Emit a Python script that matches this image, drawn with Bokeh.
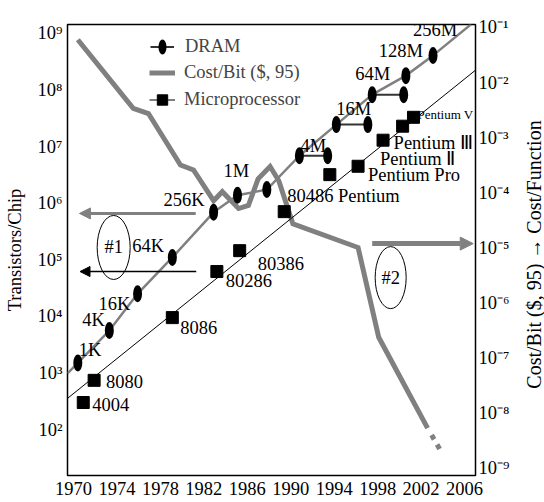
import math
from bokeh.plotting import figure
from bokeh.layouts import row
from bokeh.models import (Range1d, LogScale, LogAxis, FixedTicker, Arrow, NormalHead,
                          Legend, LegendItem, ColumnDataSource, LabelSet)
from bokeh.core.properties import value
from bokeh.embed import file_html
from bokeh.resources import INLINE

# ---------------- data ----------------
year_ticks = [1970, 1974, 1978, 1982, 1986, 1990, 1994, 1998, 2002, 2006]
left_exponents = [2, 3, 4, 5, 6, 7, 8, 9]
right_exponents = [-9, -8, -7, -6, -5, -4, -3, -2, -1]

dram_labels = ["1K", "4K", "16K", "64K", "256K", "1M", "4M", "16M", "64M", "128M", "256M"]
dram_year = [1970.4, 1973.3, 1975.9, 1979.1, 1982.9, 1985.1, 1990.8, 1994.2, 1997.5, 2000.6, 2003.1]
dram_count = [1.5e3, 5.6e3, 2.5e4, 1.1e5, 6.9e5, 1.38e6, 6.9e6, 2.45e7, 8.3e7, 1.8e8, 4.1e8]
# second sample of the same generation
dram_pair_label = ["1M", "4M", "16M", "64M"]
dram_pair_year = [1987.8, 1993.4, 1997.1, 2000.4]
dram_pair_count = [1.74e6, 6.9e6, 2.45e7, 8.3e7]
dram_pair_on_curve = ["1M"]
# where the DRAM curve leaves the frame
dram_curve_start = (1969.45, 980.0)
dram_curve_end = (2006.6, 1.45e9)

micro_names = ["4004", "8080", "8086", "80286", "80386", "80486", "Pentium",
               "Pentium Pro", "Pentium II", "Pentium III", "Pentium V"]
micro_year = [1970.9, 1971.9, 1979.1, 1983.2, 1985.3, 1989.4, 1993.6, 1996.2, 1998.5, 2000.3, 2001.3]
micro_count = [300, 740, 9.5e3, 6.2e4, 1.45e5, 7.1e5, 3.2e6, 4.5e6, 1.3e7, 2.3e7, 3.3e7]
micro_label_text = ["4004", "8080", "8086", "80286", "80386", "80486 Pentium", None,
                    "Pentium Pro", "Pentium \u2161", "Pentium \u2162", "Pentium V"]
micro_trend_year = [1969.45, 2007.0]
micro_trend_count = [355, 2.24e8]

cost_year = [1970.4, 1975.5, 1976.9, 1979.85, 1981.05, 1982.9, 1983.7, 1985.2, 1986.1,
             1987.0, 1988.1, 1988.9, 1990.2, 1996.2, 1998.1, 2002.6]
cost_per_bit = [0.060, 3.4e-3, 2.75e-3, 3.2e-4, 2.6e-4, 7.2e-5, 1.05e-4, 5.2e-5, 5.9e-5,
                1.8e-4, 3.0e-4, 1.66e-4, 2.75e-5, 1.02e-5, 2.4e-7, 5.4e-9]
cost_proj_year = [2002.6, 2003.9]
cost_proj = [5.4e-9, 1.95e-9]

# annotations (#1 / #2)
arrow1_y = 6.6e5
arrow1_x = (1981.25, 1970.55)
arrow1b_y = 6.2e4
arrow1b_x = (1981.3, 1970.6)
ellipse1 = (1973.7, 1.65e5)
arrow2_y = 1.2e-5
arrow2_x = (1997.5, 2006.8)
ellipse2 = (1999.2, 2.9e-6)

right_title = "Cost/Bit ($, 95) \u2192 Cost/Function"

# ---------------- styles ----------------
FONT_NAME = "Liberation Serif"
FONT = value(FONT_NAME)
FS = "18.5px"
GRAY = "#808080"

dram_label_dx = [1, -27, -39, -40, -50, -14, 1, 0, -17, -27, -20]
dram_label_dy = [-13, -11, 10, -11, -12, -24, -10, -16, -21, -25, -25]
micro_label_dx = [9, 12, 8, 9, 18, 3, 0, 10, -3, -9, 4]
micro_label_dy = [2, 1, 10, 9, 13, -16, 0, 9, 19, 17, -3]
micro_label_size = [FS] * 10 + ["13px"]

SUP = str.maketrans("-0123456789", "\u207b\u2070\u00b9\u00b2\u00b3\u2074\u2075\u2076\u2077\u2078\u2079")
left_ticks = [10.0 ** e for e in left_exponents]
right_ticks = [10.0 ** e for e in right_exponents]
left_labels = {10.0 ** e: "10" + str(e).translate(SUP) for e in left_exponents}
right_labels = {10.0 ** e: "10" + str(e).translate(SUP) for e in right_exponents}

W_MAIN, W_SIDE, H = 518, 26, 502

p = figure(width=W_MAIN, height=H, output_backend="svg", toolbar_location=None,
           x_range=Range1d(1969.45, 2007.01),
           y_range=Range1d(10 ** 1.187, 10 ** 9.159), y_axis_type="log",
           min_border_left=67, min_border_right=43, min_border_top=24, min_border_bottom=27)
p.extra_y_ranges = {"cost": Range1d(10 ** -9.127, 10 ** -0.946)}
p.extra_y_scales = {"cost": LogScale()}
p.xgrid.visible = False
p.ygrid.visible = False
p.outline_line_color = "black"
p.outline_line_width = 1.5
p.background_fill_color = "white"
p.border_fill_color = "white"

right_axis = LogAxis(y_range_name="cost")
p.add_layout(right_axis, "right")

for ax in [p.xaxis[0], p.yaxis[0], right_axis]:
    ax.major_tick_line_color = None
    ax.minor_tick_line_color = None
    ax.major_tick_out = 0
    ax.major_tick_in = 0
    ax.minor_tick_out = 0
    ax.axis_line_color = None
    ax.major_label_text_font = FONT_NAME
    ax.major_label_text_font_size = FS
    ax.major_label_text_color = "black"
    ax.axis_label_text_font = FONT_NAME
    ax.axis_label_text_font_size = FS
    ax.axis_label_text_font_style = "normal"
    ax.axis_label_text_color = "black"

p.xaxis[0].ticker = FixedTicker(ticks=year_ticks)
p.xaxis[0].major_label_standoff = 6
p.yaxis[0].ticker = FixedTicker(ticks=left_ticks)
p.yaxis[0].major_label_overrides = left_labels
p.yaxis[0].major_label_standoff = 5
p.yaxis[0].axis_label = "Transistors/Chip"
p.yaxis[0].axis_label_standoff = 10
right_axis.ticker = FixedTicker(ticks=right_ticks)
right_axis.major_label_overrides = right_labels
right_axis.major_label_standoff = 3

# ---------------- cost per bit (right axis) ----------------
cost_r = p.line(cost_year, cost_per_bit, y_range_name="cost", line_color=GRAY, line_width=5,
                line_join="miter")
p.line(cost_proj_year, cost_proj, y_range_name="cost", line_color=GRAY, line_width=5,
       line_dash="0 8 5 6 5 40")

# ---------------- microprocessor ----------------
micro_line_r = p.line(micro_trend_year, micro_trend_count, line_color="black", line_width=1)
micro_sq_r = p.scatter(micro_year, micro_count, marker="square", size=12, color="black")

# ---------------- DRAM ----------------
curve_x = [dram_curve_start[0]]
curve_y = [dram_curve_start[1]]
for i, lab in enumerate(dram_labels):
    curve_x.append(dram_year[i]); curve_y.append(dram_count[i])
    if lab in dram_pair_on_curve:
        j = dram_pair_label.index(lab)
        curve_x.append(dram_pair_year[j]); curve_y.append(dram_pair_count[j])
curve_x.append(dram_curve_end[0]); curve_y.append(dram_curve_end[1])
p.line(curve_x, curve_y, line_color=GRAY, line_width=2.5)

seg_idx = [j for j, l in enumerate(dram_pair_label) if l not in dram_pair_on_curve]
seg_r = p.segment([dram_year[dram_labels.index(dram_pair_label[j])] for j in seg_idx],
                  [dram_count[dram_labels.index(dram_pair_label[j])] for j in seg_idx],
                  [dram_pair_year[j] for j in seg_idx], [dram_pair_count[j] for j in seg_idx],
                  line_color="#333333", line_width=2)
oval_r = p.ellipse(dram_year + dram_pair_year, dram_count + dram_pair_count,
                   width=9, height=17, width_units="screen", height_units="screen",
                   fill_color="black", line_color=None)

# ---------------- labels ----------------
dram_src = ColumnDataSource(dict(x=dram_year, y=dram_count, text=dram_labels,
                                 dx=dram_label_dx, dy=[-d for d in dram_label_dy]))
p.add_layout(LabelSet(x="x", y="y", text="text", x_offset="dx", y_offset="dy", source=dram_src,
                      text_align="left", text_baseline="middle", text_font=FONT,
                      text_font_size=value(FS), text_color="black"))
mi = [i for i, t in enumerate(micro_label_text) if t]
micro_src = ColumnDataSource(dict(x=[micro_year[i] for i in mi], y=[micro_count[i] for i in mi],
                                  text=[micro_label_text[i] for i in mi],
                                  dx=[micro_label_dx[i] for i in mi],
                                  dy=[-micro_label_dy[i] for i in mi],
                                  size=[micro_label_size[i] for i in mi]))
p.add_layout(LabelSet(x="x", y="y", text="text", x_offset="dx", y_offset="dy", source=micro_src,
                      text_align="left", text_baseline="middle", text_font=FONT,
                      text_font_size="size", text_color="black"))

# ---------------- annotations #1 / #2 ----------------
p.add_layout(Arrow(end=NormalHead(size=11, fill_color=GRAY, line_color=GRAY),
                   x_start=arrow1_x[0], y_start=arrow1_y, x_end=arrow1_x[1], y_end=arrow1_y,
                   line_color=GRAY, line_width=3))
p.add_layout(Arrow(end=NormalHead(size=10, fill_color="black", line_color="black"),
                   x_start=arrow1b_x[0], y_start=arrow1b_y, x_end=arrow1b_x[1], y_end=arrow1b_y,
                   line_color="black", line_width=1.5))
p.add_layout(Arrow(end=NormalHead(size=13, fill_color=GRAY, line_color=GRAY),
                   x_start=arrow2_x[0], y_start=arrow2_y, x_end=arrow2_x[1], y_end=arrow2_y,
                   y_range_name="cost", line_color=GRAY, line_width=5))
p.ellipse([ellipse1[0]], [ellipse1[1]], width=33, height=64, width_units="screen",
          height_units="screen", fill_color=None, line_color="black", line_width=1)
p.ellipse([ellipse2[0]], [ellipse2[1]], width=31, height=62, width_units="screen",
          height_units="screen", fill_color=None, line_color="black", line_width=1,
          y_range_name="cost")
p.text([ellipse1[0]], [ellipse1[1]], text=["#1"], text_align="center", text_baseline="middle",
       text_font=FONT, text_font_size=FS, text_color="black")
p.text([ellipse2[0]], [ellipse2[1]], text=["#2"], text_align="center", text_baseline="middle",
       text_font=FONT, text_font_size=FS, text_color="black", y_range_name="cost")

# ---------------- legends ----------------
leg1 = Legend(items=[LegendItem(label="DRAM", renderers=[seg_r, oval_r])],
              location=(83, 418), glyph_width=24, glyph_height=19, label_height=19,
              label_standoff=11, padding=0, margin=0, spacing=0,
              border_line_color=None, background_fill_alpha=0,
              label_text_font=FONT_NAME, label_text_font_size=FS)
leg2 = Legend(items=[LegendItem(label="Cost/Bit ($, 95)", renderers=[cost_r]),
                     LegendItem(label="Microprocessor", renderers=[micro_line_r, micro_sq_r])],
              location=(82, 362), glyph_width=26, glyph_height=27, label_height=27,
              label_standoff=9, padding=0, margin=0, spacing=0,
              border_line_color=None, background_fill_alpha=0,
              label_text_font=FONT_NAME, label_text_font_size=FS)
p.add_layout(leg1)
p.add_layout(leg2)

# ---------------- right-hand title strip (reads bottom to top) ----------------
side = figure(width=W_SIDE, height=H, output_backend="svg", toolbar_location=None,
              x_range=Range1d(0, W_SIDE), y_range=Range1d(0, H), min_border=0,
              x_axis_location=None, y_axis_location=None)
side.outline_line_color = None
side.xgrid.visible = False
side.ygrid.visible = False
side.background_fill_color = "white"
side.border_fill_color = "white"
side.text([W_SIDE * 0.58], [H * 0.49], text=[right_title], angle=math.pi / 2,
          text_align="center", text_baseline="middle", text_font=FONT,
          text_font_size="20px", text_color="black")

layout = row(p, side, spacing=0)
open("out.html", "w").write(file_html(layout, INLINE))
